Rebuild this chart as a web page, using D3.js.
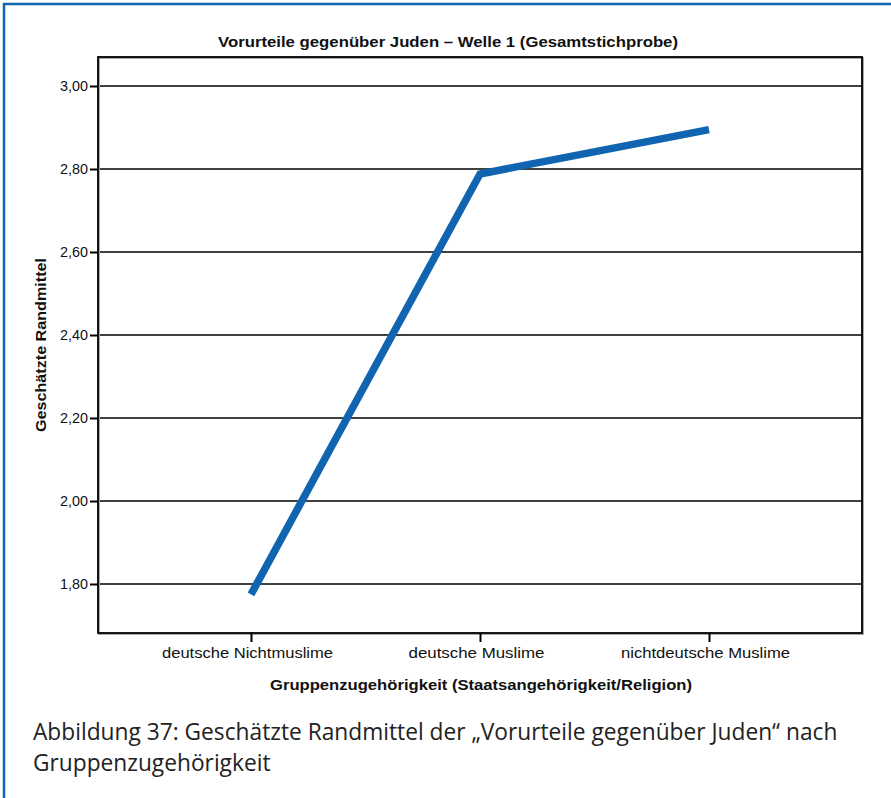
<!DOCTYPE html>
<html><head><meta charset="utf-8">
<script src="https://cdn.jsdelivr.net/npm/d3@7"></script>
<style>body{margin:0;background:#fff}svg{display:block}</style>
</head><body>
<script>
const categories = ["deutsche Nichtmuslime", "deutsche Muslime", "nichtdeutsche Muslime"];
const values = [1.775, 2.788, 2.895];
const yTicks = [1.8, 2.0, 2.2, 2.4, 2.6, 2.8, 3.0];
const title = "Vorurteile gegenüber Juden – Welle 1 (Gesamtstichprobe)";
const xTitle = "Gruppenzugehörigkeit (Staatsangehörigkeit/Religion)";
const yTitle = "Geschätzte Randmittel";
const caption = ["Abbildung 37: Geschätzte Randmittel der „Vorurteile gegenüber Juden“ nach", "Gruppenzugehörigkeit"];

const W = 891, H = 798;
const FF = "'Liberation Sans', Arial, Helvetica, sans-serif";
const svg = d3.select("body").append("svg").attr("width", W).attr("height", H);
const blue = "#1165b0";

// frame (top and left)
svg.append("line").attr("x1", 3).attr("x2", W).attr("y1", 4).attr("y2", 4).attr("stroke", blue).attr("stroke-width", 2.5);
svg.append("line").attr("x1", 4).attr("x2", 4).attr("y1", 3).attr("y2", H).attr("stroke", blue).attr("stroke-width", 2.5);

const L = 98, R = 862, T = 57, B = 633;
const x = d3.scalePoint().domain(categories).range([L, R]).padding(0.668);
const y = d3.scaleLinear().domain([1.8, 3.0]).range([584, 86]);

// gridlines
svg.append("g").selectAll("line").data(yTicks).join("line")
  .attr("x1", L).attr("x2", R).attr("y1", d => y(d)).attr("y2", d => y(d))
  .attr("stroke", "#000").attr("stroke-width", 1.3);

// plot frame shadow + frame
svg.append("rect").attr("x", L + 1).attr("y", T + 1).attr("width", R - L).attr("height", B - T)
  .attr("fill", "none").attr("stroke", "#aaa").attr("stroke-width", 2);
svg.append("rect").attr("x", L).attr("y", T).attr("width", R - L).attr("height", B - T)
  .attr("fill", "none").attr("stroke", "#000").attr("stroke-width", 1.8);

// y axis
const yAxis = d3.axisLeft(y).tickValues(yTicks).tickSize(8).tickPadding(2)
  .tickFormat(d => d3.format(".2f")(d).replace(".", ","));
const gy = svg.append("g").attr("transform", `translate(${L},0)`).call(yAxis);
gy.select(".domain").remove();
gy.selectAll(".tick line").attr("stroke", "#000").attr("stroke-width", 2);
gy.selectAll(".tick text").attr("font-family", FF).attr("font-size", 14).attr("fill", "#111")
  .attr("textLength", 28).attr("lengthAdjust", "spacingAndGlyphs");

// x axis
const xAxis = d3.axisBottom(x).tickSize(9).tickPadding(5);
const gx = svg.append("g").attr("transform", `translate(0,${B})`).call(xAxis);
gx.select(".domain").remove();
gx.selectAll(".tick line").attr("stroke", "#000").attr("stroke-width", 2);
const xLen = [171, 136, 169];
gx.selectAll(".tick text").attr("font-family", FF).attr("font-size", 15.5).attr("fill", "#111")
  .attr("dx", -4)
  .attr("textLength", (d, i) => xLen[i]).attr("lengthAdjust", "spacingAndGlyphs");

// line
const line = d3.line().x((d, i) => x(categories[i])).y(d => y(d));
svg.append("path").datum(values).attr("d", line)
  .attr("fill", "none").attr("stroke", blue).attr("stroke-width", 7.5).attr("stroke-linejoin", "miter");

// titles
svg.append("text").attr("x", 448).attr("y", 47).attr("text-anchor", "middle")
  .attr("font-family", FF).attr("font-weight", "bold").attr("font-size", 15.5)
  .attr("fill", "#111").attr("textLength", 460).attr("lengthAdjust", "spacingAndGlyphs").text(title);
svg.append("text").attr("x", 481).attr("y", 690).attr("text-anchor", "middle")
  .attr("font-family", FF).attr("font-weight", "bold").attr("font-size", 15.5)
  .attr("fill", "#111").attr("textLength", 422).attr("lengthAdjust", "spacingAndGlyphs").text(xTitle);
svg.append("text").attr("transform", `translate(46,${(T + B) / 2}) rotate(-90)`).attr("text-anchor", "middle")
  .attr("font-family", FF).attr("font-weight", "bold").attr("font-size", 15.5)
  .attr("fill", "#111").attr("textLength", 174).attr("lengthAdjust", "spacingAndGlyphs").text(yTitle);

// caption
const cg = svg.append("g").attr("transform", "translate(33,0)");
const t1 = cg.append("text").attr("x", 0).attr("y", 740).attr("font-family", "'Open Sans', sans-serif").attr("font-size", 23.5)
  .attr("fill", "#222").text(caption[0]);
cg.append("text").attr("x", 0).attr("y", 771).attr("font-family", "'Open Sans', sans-serif").attr("font-size", 23.5)
  .attr("fill", "#222").text(caption[1]);
const w = t1.node().getComputedTextLength();
cg.attr("transform", `translate(33,0) scale(${805 / w},1)`);
</script>
</body></html>
